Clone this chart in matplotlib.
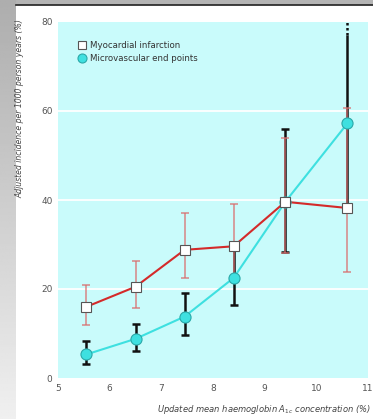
import numpy as np
import matplotlib
matplotlib.use("Agg")
import matplotlib.pyplot as plt
from matplotlib.patches import Rectangle
from matplotlib.lines import Line2D

# HbA1c category means
hba1c = [5.55, 6.5, 7.45, 8.4, 9.4, 10.6]

# myocardial infarction: incidence and 95% CI
mi = [16.0, 20.5, 28.8, 29.6, 39.6, 38.2]
mi_lo = [11.8, 15.8, 22.4, 21.5, 28.2, 23.8]
mi_hi = [21.0, 26.4, 37.0, 39.0, 54.0, 60.7]

# microvascular end points: incidence and 95% CI
mv = [5.3, 8.8, 13.8, 22.5, 39.6, 57.2]
mv_lo = [3.2, 6.0, 9.6, 16.3, 28.4, 39.0]
mv_hi = [8.4, 12.2, 19.0, 30.5, 56.0, 77.0]
mv_top_dotted = 80.5

cyan_bg = "#c9fbfb"
cyan = "#3ee0e0"
red = "#d42a2a"
pink = "#d97070"

fig = plt.figure(figsize=(3.73, 4.19), dpi=100)
fig.patch.set_facecolor("white")

# grey page border on the left, fading downward
bg = fig.add_axes([0, 0, 16 / 373, 1])
grad = np.linspace(0.68, 0.94, 200).reshape(-1, 1)
bg.imshow(grad, aspect="auto", cmap="gray", vmin=0, vmax=1, origin="upper")
bg.axis("off")
fig.add_artist(Rectangle((0, 1 - 4 / 419), 1, 4 / 419, transform=fig.transFigure,
                         color="#b4b4b4", zorder=0))
fig.add_artist(Line2D([16 / 373, 1], [1 - 5 / 419, 1 - 5 / 419],
                      transform=fig.transFigure, color="#222222", lw=1.2))

ax = fig.add_axes([58 / 373, 41 / 419, 310 / 373, 356 / 419])
ax.set_facecolor(cyan_bg)
for s in ax.spines.values():
    s.set_visible(False)

ax.set_xlim(5, 10.92)
ax.set_ylim(0, 80)
ax.set_xticks([5, 6, 7, 8, 9, 10, 11])
ax.set_yticks([0, 20, 40, 60, 80])
ax.tick_params(length=0, labelsize=6.5, labelcolor="#555555", pad=4)
ax.tick_params(axis="y", pad=4)
for lab in ax.get_xticklabels() + ax.get_yticklabels():
    lab.set_clip_on(False)
for y in [20, 40, 60]:
    ax.axhline(y, color="white", lw=1.3, zorder=1)

mv_err = [np.array(mv) - np.array(mv_lo), np.array(mv_hi) - np.array(mv)]
ax.errorbar(hba1c[:-1], mv[:-1], yerr=[mv_err[0][:-1], mv_err[1][:-1]], fmt="none",
            ecolor="#111111", elinewidth=1.8, capsize=3, capthick=1.8, zorder=3)
ax.errorbar(hba1c[-1:], mv[-1:], yerr=[mv_err[0][-1:], mv_err[1][-1:]], fmt="none",
            ecolor="#111111", elinewidth=1.8, capsize=0, zorder=3)
ax.plot([hba1c[-1], hba1c[-1]], [mv_hi[-1], mv_top_dotted], color="#111111",
        lw=1.8, ls=(0, (1, 1)), zorder=3, clip_on=False)

# MI bars drawn over the black ones, so overlaps look dark red
mi_err = [np.array(mi) - np.array(mi_lo), np.array(mi_hi) - np.array(mi)]
ax.errorbar(hba1c, mi, yerr=mi_err, fmt="none", ecolor=pink, elinewidth=1.1,
            capsize=3, capthick=1.1, zorder=4, alpha=0.85)

ax.plot(hba1c, mi, color=red, lw=1.5, zorder=5)
ax.plot(hba1c, mv, color=cyan, lw=1.5, zorder=6)
ax.plot(hba1c, mv, "o", ms=8, mfc=cyan, mec="#2aa8a8", mew=0.8, zorder=7)
ax.plot(hba1c, mi, "s", ms=6.5, mfc="white", mec="#555555", mew=0.8, zorder=8)

h1 = Line2D([], [], marker="s", ls="none", ms=6, mfc="white", mec="#555555", mew=0.8)
h2 = Line2D([], [], marker="o", ls="none", ms=6.5, mfc=cyan, mec="#2aa8a8", mew=0.8)
leg = ax.legend([h1, h2], ["Myocardial infarction", "Microvascular end points"],
                loc="upper left", bbox_to_anchor=(0.055, 0.955), frameon=False,
                fontsize=6.2, handlelength=0.8, handletextpad=0.5, labelspacing=0.45,
                borderaxespad=0)
for t in leg.get_texts():
    t.set_color("#333333")

fig.text(20 / 373, 1 - 19 / 419, "Adjusted incidence per 1000 person years (%)",
         rotation=90, ha="center", va="top", fontsize=5.6, style="italic", color="#444444")
fig.text(371 / 373, 1 - 409 / 419,
         r"Updated mean haemoglobin $\mathit{A}_{\mathit{1c}}$ concentration (%)",
         ha="right", va="center", fontsize=6, style="italic", color="#444444")

fig.savefig("out.png", dpi=100)
